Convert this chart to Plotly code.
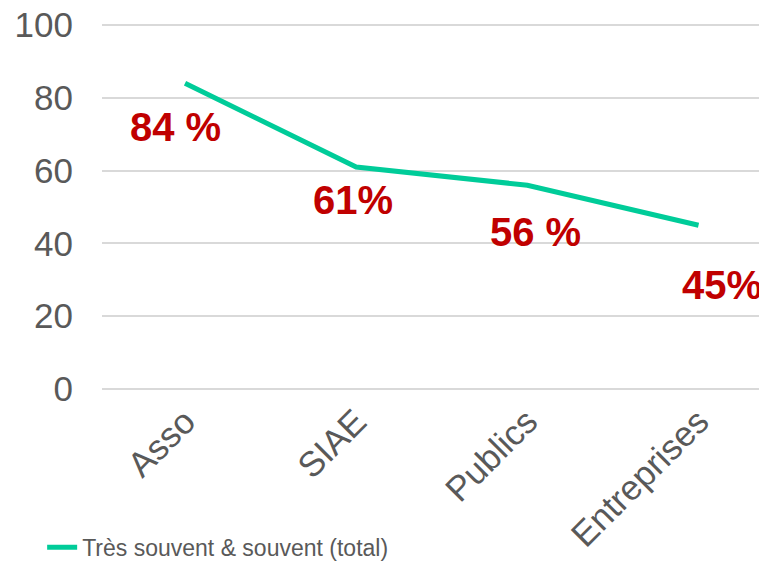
import plotly.graph_objects as go

FONT = "Liberation Sans, Arial, sans-serif"
TICK_COLOR = "#595959"
GRID = "#D9D9D9"
LINE_COLOR = "#00CC99"
LABEL_RED = "#C00000"

categories = ["Asso", "SIAE", "Publics", "Entreprises"]
values = [84, 61, 56, 45]
value_labels = ["84 %", "61%", "56 %", "45%"]
series_name = "Très souvent & souvent (total)"

# pixel offsets of the red value labels relative to their points
label_shift = [(-10, -44), (-3, -33), (8, -47), (23, -60)]

fig = go.Figure(go.Scatter(
    x=categories,
    y=values,
    mode="lines",
    name=series_name,
    line=dict(color=LINE_COLOR, width=5),
    showlegend=True,
))

for cat, val, lab, (dx, dy) in zip(categories, values, value_labels, label_shift):
    fig.add_annotation(
        x=cat, y=val, text=f"<b>{lab}</b>", showarrow=False,
        xshift=dx, yshift=dy,
        font=dict(family=FONT, size=40, color=LABEL_RED),
    )

# the page body adds an 8px margin, so the figure is sized to the visible area
fig.update_layout(
    width=759, height=553,
    paper_bgcolor="white", plot_bgcolor="white",
    font=dict(family=FONT, color=TICK_COLOR),
    margin=dict(l=94, r=0, t=16, b=172, autoexpand=False),
    xaxis=dict(
        range=[-0.485, 3.40],
        showgrid=False, zeroline=False, showline=False,
        tickangle=-45,
        tickfont=dict(size=35, color=TICK_COLOR),
        ticklabelstandoff=4,
        ticklabeloverflow="allow",
        automargin=False,
    ),
    yaxis=dict(
        range=[0, 100.3], tickvals=[0, 20, 40, 60, 80, 100],
        showgrid=True, gridcolor=GRID, gridwidth=2,
        zeroline=True, zerolinecolor=GRID, zerolinewidth=2,
        showline=False,
        tickfont=dict(size=35, color=TICK_COLOR),
        ticklabelstandoff=28,
        ticklabeloverflow="allow",
        automargin=False,
    ),
    legend=dict(
        x=-0.090, y=-0.434, xanchor="left", yanchor="middle",
        orientation="h",
        font=dict(size=23, color=TICK_COLOR),
        bgcolor="rgba(0,0,0,0)",
    ),
)

fig.write_html("out.html")
